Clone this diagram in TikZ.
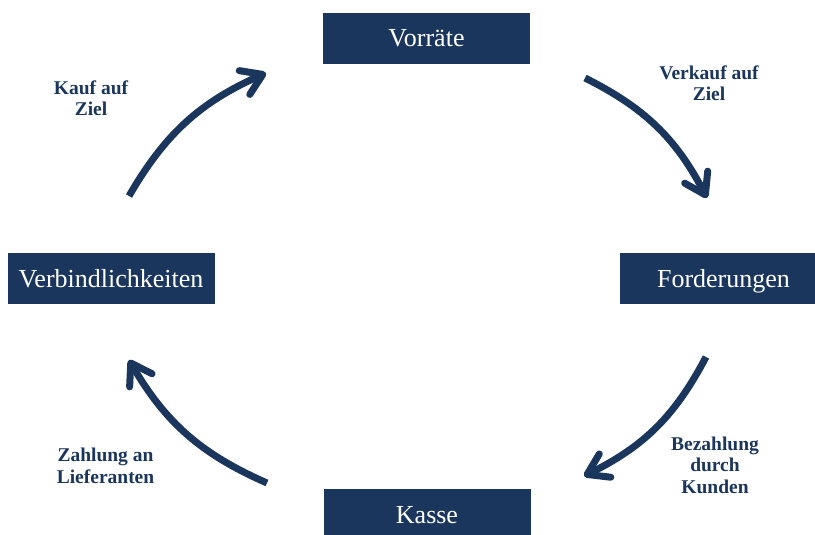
\documentclass[tikz,border=0pt]{standalone}
\usepackage{fontspec}
\setmainfont{Liberation Serif}
\usetikzlibrary{arrows.meta}
\definecolor{navy}{RGB}{26,54,93}
\begin{document}
\begin{tikzpicture}[x=1pt,y=-1pt,
  account/.style={fill=navy, text=white, font=\fontsize{26}{30}\selectfont,
    inner sep=0pt, minimum width=207pt, minimum height=51pt,
    text height=17pt, text depth=0pt},
  flowlabel/.style={text=navy, font=\bfseries\fontsize{19.5}{21.5}\selectfont,
    align=center, inner sep=0pt},
  flow/.style={draw=navy, line width=7pt,
    -{Straight Barb[length=20pt,width=26pt,round]}, bend left=18}]
  \useasboundingbox (0,0) rectangle (815,535);

  % the four balance-sheet items
  \node[account] (vor)  at (426.5,38.5) {Vorräte};
  \node[account] (ford) at (723.5,278.5) {Forderungen};
  \node[account] (kas)  at (427,514.5) {Kasse};
  \node[account] (verb) at (111,278.5) {Verbindlichkeiten};

  % flow labels
  \node[flowlabel] (l1) at (91,98)    {Kauf auf\\Ziel};
  \node[flowlabel] (l2) at (709,83)   {Verkauf auf\\Ziel};
  \node[flowlabel] (l3) at (715,465)  {Bezahlung\\durch\\Kunden};
  \node[flowlabel] (l4) at (105.5,466) {Zahlung an\\Lieferanten};

  % arrow end points
  \coordinate (a1s) at (129,196);
  \coordinate (a1e) at (266,73);
  \coordinate (a2s) at (585,78);
  \coordinate (a2e) at (707,198);
  \coordinate (a3s) at (706,357);
  \coordinate (a3e) at (584,476);
  \coordinate (a4s) at (267,483);
  \coordinate (a4e) at (129,360);

  % the cycle, clockwise
  \draw[flow] (a1s) to (a1e);
  \draw[flow] (a2s) to (a2e);
  \draw[flow] (a3s) to (a3e);
  \draw[flow] (a4s) to (a4e);
\end{tikzpicture}
\end{document}
